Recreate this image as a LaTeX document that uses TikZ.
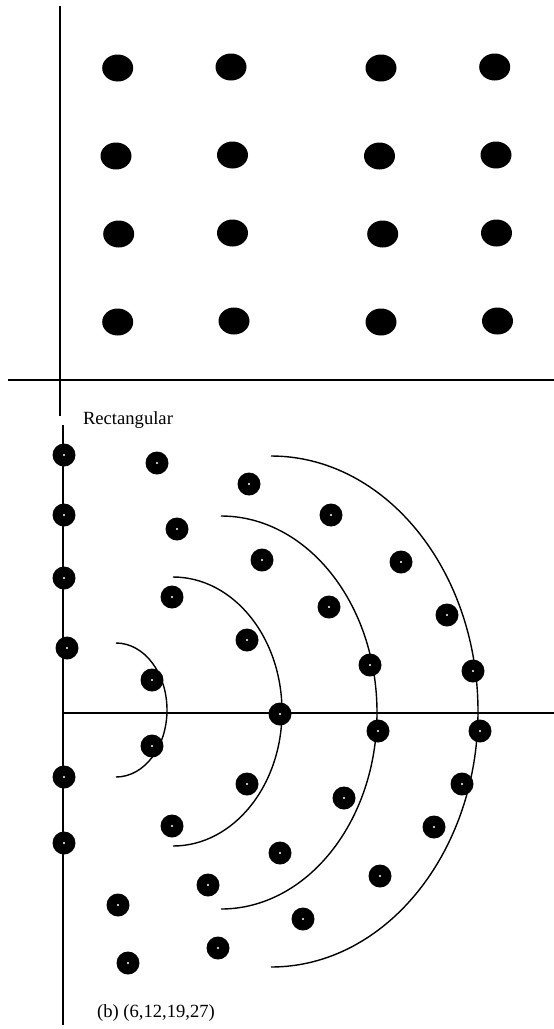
\documentclass[tikz,border=0pt]{standalone}
\usepackage{fontspec}
\setmainfont{Liberation Serif}
\usetikzlibrary{shapes.geometric}
\begin{document}
\begin{tikzpicture}[x=1pt,y=-1pt,
  axis/.style={line width=1.7pt},
  ring/.style={line width=1.4pt},
  tdot/.style={ellipse,fill=black,minimum width=31pt,minimum height=27pt,inner sep=0pt},
  bdot/.style={circle,fill=black,minimum size=23pt,inner sep=0pt,
    path picture={\fill[white] (path picture bounding box.center) circle (1.1pt);}},
  lbl/.style={font=\fontsize{18.6}{20}\selectfont,inner sep=0pt}]
\useasboundingbox (0,0) rectangle (554,1029);
% top panel axes
\coordinate (tv1) at (60,6);
\coordinate (tv2) at (60,416);
\coordinate (th1) at (8,380);
\coordinate (th2) at (554,380);
\draw[axis] (tv1) -- (tv2);
\draw[axis] (th1) -- (th2);
% top dots
\node[tdot] (t11) at (117.7,68) {};
\node[tdot] (t12) at (231,67) {};
\node[tdot] (t13) at (381,68) {};
\node[tdot] (t14) at (494.7,67) {};
\node[tdot] (t21) at (116,156) {};
\node[tdot] (t22) at (232.5,155) {};
\node[tdot] (t23) at (379.5,156) {};
\node[tdot] (t24) at (496,155) {};
\node[tdot] (t31) at (118.7,234) {};
\node[tdot] (t32) at (232.5,233) {};
\node[tdot] (t33) at (382.7,234) {};
\node[tdot] (t34) at (496.5,233) {};
\node[tdot] (t41) at (117.7,322) {};
\node[tdot] (t42) at (234,321) {};
\node[tdot] (t43) at (381,322) {};
\node[tdot] (t44) at (497.5,321) {};
% label
\node[lbl] (rect) at (128,420) {Rectangular};
% bottom axes
\coordinate (bv1) at (63,425);
\coordinate (bv2) at (63,1025);
\coordinate (bh1) at (63,713);
\coordinate (bh2) at (554,713);
\draw[axis] (bv1) -- (bv2);
\draw[axis] (bh1) -- (bh2);
% rings (half ellipses)
\draw[ring] (116,643) arc[start angle=-90,end angle=90,x radius=51,y radius=67];
\draw[ring] (173,577) arc[start angle=-90,end angle=90,x radius=109,y radius=134.5];
\draw[ring] (221,516) arc[start angle=-90,end angle=90,x radius=156,y radius=196.5];
\draw[ring] (271,456) arc[start angle=-90,end angle=90,x radius=207,y radius=255.5];
% bottom dots: on the vertical axis
\foreach \n/\x/\y in {a1/64/455,a2/64/515,a3/64/578,a4/67/648,a5/64/777,a6/64/843}
  \node[bdot] (\n) at (\x,\y) {};
% other dots
\foreach \n/\x/\y in {
  b1/157/463, b2/249/484, b3/177/529, b4/262/560, b5/331/515,
  b6/172/597, b7/247/640, b8/401/562, b9/329/607, b10/447/615,
  b11/370/665, b12/473/671, b13/152/680, b14/280/714, b15/378/731,
  b16/480/731, b17/152/746, b18/247/784, b19/172/826, b20/280/853,
  b21/344/798, b22/462/784, b23/434/827, b24/380/876, b25/208/885,
  b26/118/905, b27/303/919, b28/218/948, b29/128/963}
  \node[bdot] (\n) at (\x,\y) {};
\node[lbl] (cap) at (156,1013) {(b) (6,12,19,27)};
\end{tikzpicture}
\end{document}
